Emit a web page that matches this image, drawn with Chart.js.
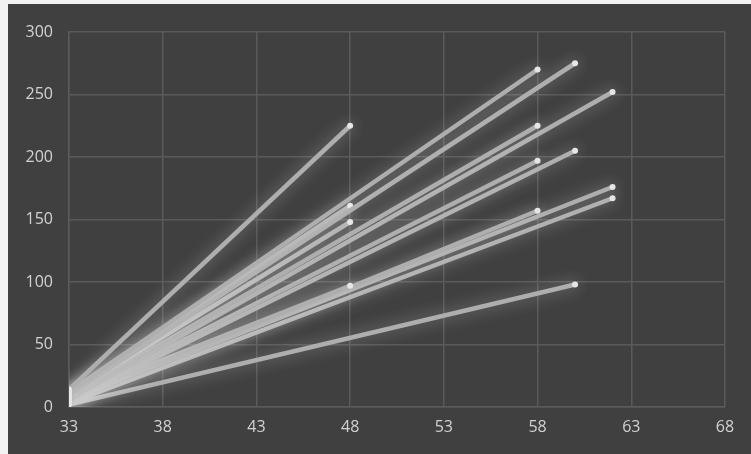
<!DOCTYPE html>
<html lang="en">
<head>
  <meta charset="UTF-8" />
  <title>Line fan</title>
  <script src="https://cdn.jsdelivr.net/npm/chart.js"></script>
  <style>
    body {
      margin: 0;
      padding: 0;
      background-color: #f2f2f2;
      width: 751px;
      height: 454px;
      overflow: hidden;
    }

    #chart-container {
      position: absolute;
      left: 8px;
      top: 4px;
      width: 743px;
      height: 450px;
      background-color: #404040;
    }
  </style>
</head>
<body>
  <div id="chart-container">
    <canvas id="chart"></canvas>
  </div>

  <script>
    // each line runs from (startX, startY) to (endX, endY)
    const startX = [33, 33, 33, 33, 33, 33, 33, 33, 33, 33, 33, 33, 33, 33];
    const startY = [14, 12, 10, 12, 8, 6, 10, 7, 5, 8, 4, 5, 3, 2];
    const endX   = [48, 58, 60, 48, 58, 62, 48, 58, 60, 48, 58, 62, 62, 60];
    const endY   = [225, 270, 275, 161, 225, 252, 148, 197, 205, 97, 157, 176, 167, 98];

    const xTicks = [33, 38, 43, 48, 53, 58, 63, 68];
    const yTicks = [0, 50, 100, 150, 200, 250, 300];

    const lineColor = '#aeaeae';
    const pointColor = '#e6e6e6';
    const gridColor = '#5a5a5a';
    const labelColor = '#d2d2d2';

    const datasets = startX.map((x0, i) => ({
      data: [{ x: x0, y: startY[i] }, { x: endX[i], y: endY[i] }],
      showLine: true,
      borderColor: lineColor,
      borderWidth: 4.5,
      pointRadius: 3,
      pointBackgroundColor: pointColor,
      pointBorderColor: pointColor,
      pointBorderWidth: 0
    }));

    // soft white glow round lines and markers
    const glow = {
      id: 'glow',
      beforeDatasetsDraw(chart) {
        const ctx = chart.ctx;
        ctx.save();
        ctx.shadowColor = 'rgba(255,255,255,0.4)';
        ctx.shadowBlur = 16;
      },
      afterDatasetsDraw(chart) {
        chart.ctx.restore();
      }
    };

    const chart = new Chart(document.getElementById('chart').getContext('2d'), {
      type: 'scatter',
      data: { datasets: datasets },
      plugins: [glow],
      options: {
        animation: false,
        responsive: true,
        maintainAspectRatio: false,
        layout: { padding: { top: 28, right: 26, left: 0, bottom: 0 } },
        plugins: {
          legend: { display: false },
          tooltip: { enabled: false }
        },
        scales: {
          x: {
            type: 'linear',
            min: xTicks[0],
            max: xTicks[xTicks.length - 1],
            afterBuildTicks(scale) { scale.ticks = xTicks.map(v => ({ value: v })); },
            afterFit(scale) { scale.height = 47; },
            grid: { color: gridColor, lineWidth: 1.5, drawTicks: false },
            border: { color: gridColor, width: 1.5 },
            ticks: {
              color: labelColor,
              padding: 11,
              font: { family: 'Open Sans', size: 16 }
            }
          },
          y: {
            min: yTicks[0],
            max: yTicks[yTicks.length - 1],
            afterBuildTicks(scale) { scale.ticks = yTicks.map(v => ({ value: v })); },
            afterFit(scale) { scale.width = 61; },
            grid: { color: gridColor, lineWidth: 1.5, drawTicks: false },
            border: { color: gridColor, width: 1.5 },
            ticks: {
              color: labelColor,
              padding: 16,
              font: { family: 'Open Sans', size: 16 }
            }
          }
        }
      }
    });
  </script>
</body>
</html>
